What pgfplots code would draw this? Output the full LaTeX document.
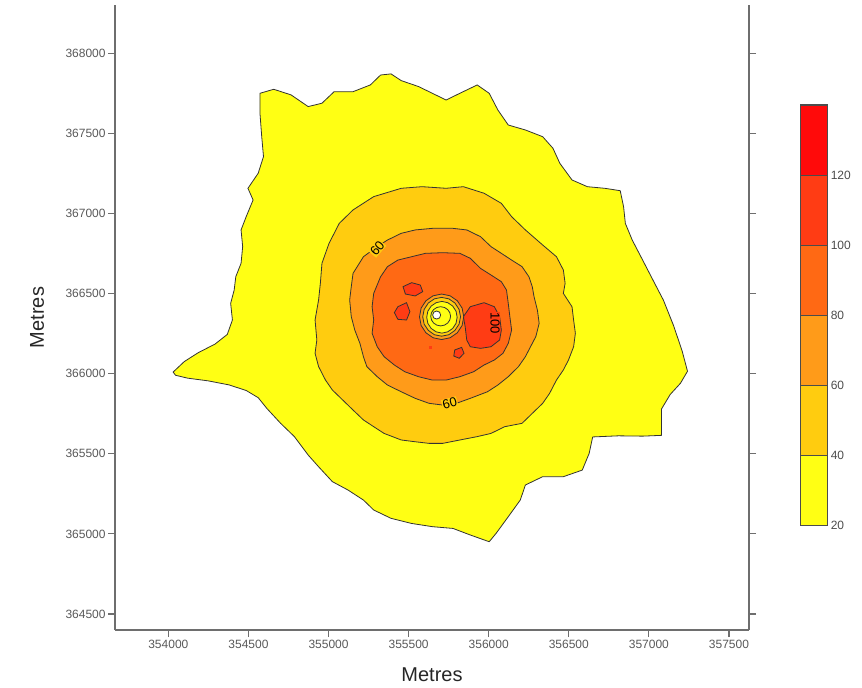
\documentclass[border=0pt]{standalone}
\usepackage{pgfplots}
\pgfplotsset{compat=1.18}
\usepackage{fontspec}
\setmainfont{Liberation Sans}
\definecolor{c20}{RGB}{255,255,20}
\definecolor{c40}{RGB}{255,204,15}
\definecolor{c60}{RGB}{255,155,25}
\definecolor{c80}{RGB}{255,105,20}
\definecolor{c100}{RGB}{255,60,20}
\definecolor{c120}{RGB}{255,10,10}
\definecolor{axgray}{RGB}{110,110,110}
\begin{document}
\begin{tikzpicture}
\begin{axis}[
  name=main,
  at={(57.5pt,28.5pt)}, anchor=south west,
  width=317pt, height=312.5pt, scale only axis,
  xmin=353667, xmax=357625, ymin=364400, ymax=368301,
  scaled x ticks=false, scaled y ticks=false,
  axis x line*=bottom, axis y line*=box,
  xtick pos=left, xticklabel pos=left,
  ytick pos=both, yticklabel pos=left,
  tick align=outside,
  major tick length=3.5pt,
  axis line style={axgray, line width=0.6pt},
  major tick style={axgray, line width=0.6pt},
  xtick={354000,354500,355000,355500,356000,356500,357000,357500},
  xticklabels={354000,354500,355000,355500,356000,356500,357000,357500},
  ytick={364500,365000,365500,366000,366500,367000,367500,368000},
  yticklabels={364500,365000,365500,366000,366500,367000,367500,368000},
  tick label style={font=\fontsize{6}{7}\selectfont, text=black!65},
  yticklabel style={inner sep=1pt},
  xticklabel style={inner sep=1.5pt},
  xlabel={Metres}, ylabel={Metres},
  label style={font=\fontsize{10}{12}\selectfont, text=black!85},
  xlabel style={at={(axis description cs:0.5,-0.072)}, anchor=center},
  ylabel style={at={(axis description cs:-0.123,0.5)}, anchor=center},
]
% 20 contour (outer boundary)
\addplot [fill=c20, draw=black!80, line width=0.4pt] coordinates {
(354030,366010) (354099,366075) (354185,366130) (354292,366185) (354368,366245)
(354400,366335) (354389,366439) (354411,366522) (354421,366605) (354454,366689)
(354464,366793) (354454,366897) (354486,366980) (354529,367084) (354497,367157)
(354561,367251) (354594,367355) (354583,367479) (354572,367625) (354572,367750)
(354658,367775) (354766,367740) (354873,367667) (354959,367688) (355035,367760)
(355153,367760) (355261,367802) (355325,367864) (355390,367871) (355454,367829)
(355562,367792) (355648,367750) (355734,367708) (355820,367750) (355928,367802)
(356003,367750) (356057,367646) (356122,367552) (356229,367521) (356337,367479)
(356401,367407) (356444,367313) (356520,367209) (356616,367167) (356724,367157)
(356821,367142) (356842,367042) (356853,366938) (356896,366834) (356961,366709)
(357025,366585) (357090,366460) (357154,366300) (357208,366140) (357241,366015)
(357197,365940) (357133,365870) (357079,365780) (357079,365700) (357079,365615)
(356961,365610) (356810,365612) (356649,365605) (356627,365502) (356584,365398)
(356466,365357) (356337,365357) (356229,365305) (356197,365211) (356122,365107)
(356046,365003) (356003,364951) (355885,364993) (355777,365034) (355648,365045)
(355519,365065) (355390,365097) (355282,365149) (355218,365211) (355121,365274)
(355024,365326) (354938,365419) (354873,365492) (354787,365607) (354701,365690)
(354615,365783) (354561,365850) (354486,365895) (354378,365930) (354249,365955)
(354120,365972) (354045,365990)
} -- cycle;
% 40 contour
\addplot [fill=c40, draw=black!80, line width=0.4pt] coordinates {
(355153,367022) (355282,367105) (355454,367157) (355584,367167) (355734,367157)
(355842,367167) (355971,367126) (356079,367063) (356143,366980) (356229,366897)
(356337,366803) (356423,366730) (356466,366647) (356477,366564) (356466,366501)
(356520,366418) (356530,366335) (356541,366252) (356530,366168) (356498,366085)
(356466,366023) (356423,365960) (356380,365877) (356337,365815) (356272,365752)
(356208,365690) (356100,365669) (356014,365627) (355928,365607) (355820,365586)
(355713,365565) (355627,365565) (355541,365575) (355454,365586) (355347,365627)
(355282,365669) (355218,365711) (355153,365773) (355089,365835) (355024,365898)
(354981,365960) (354938,366044) (354916,366127) (354927,366210) (354916,366335)
(354938,366460) (354949,366564) (354959,366689) (355003,366813) (355067,366938)
} -- cycle;
% 60 contour
\addplot [fill=c60, draw=black!80, line width=0.4pt] coordinates {
(355153,366626) (355218,366730) (355304,366793) (355368,366834) (355454,366876)
(355541,366897) (355648,366907) (355777,366907) (355863,366897) (355949,366855)
(356014,366793) (356079,366751) (356143,366709) (356208,366668) (356251,366605)
(356272,366543) (356283,366480) (356304,366397) (356315,366314) (356294,366231)
(356261,366168) (356229,366106) (356186,366044) (356122,365981) (356057,365929)
(355992,365887) (355885,365846) (355799,365815) (355713,365804) (355627,365815)
(355541,365846) (355454,365887) (355368,365929) (355304,365981) (355239,366044)
(355218,366106) (355196,366189) (355164,366272) (355142,366356) (355132,366460)
(355142,366543)
} -- cycle;
% 80 contour
\addplot [fill=c80, draw=black!80, line width=0.4pt] coordinates {
(355325,366605) (355368,366668) (355433,366709) (355519,366730) (355605,366751)
(355713,366755) (355820,366751) (355885,366720) (355949,366657) (356014,366616)
(356079,366574) (356111,366522) (356122,366439) (356132,366356) (356143,366272)
(356122,366189) (356089,366127) (356035,366085) (355971,366054) (355906,366012)
(355820,365981) (355734,365960) (355648,365960) (355562,365981) (355476,366012)
(355411,366054) (355347,366106) (355304,366168) (355272,366252) (355282,366335)
(355272,366418) (355282,366501)
} -- cycle;
% 100 contours
\addplot [fill=c100, draw=black!80, line width=0.4pt] coordinates {
(355885,366418) (355971,366443) (356035,366418) (356068,366356) (356079,366272)
(356068,366210) (356014,366168) (355949,366158) (355885,366168) (355863,366210)
(355853,366293) (355842,366356)
} -- cycle;
\addplot [fill=c100, draw=black!80, line width=0.4pt] coordinates {
(355465,366543) (355519,366568) (355573,366553) (355588,366512) (355541,366485)
(355480,366497)
} -- cycle;
\addplot [fill=c100, draw=black!80, line width=0.4pt] coordinates {
(355433,366418) (355487,366443) (355508,366387) (355487,366335) (355433,366339)
(355411,366381)
} -- cycle;
\addplot [fill=c100, draw=black!80, line width=0.4pt] coordinates {
(355788,366148) (355831,366164) (355846,366127) (355816,366096) (355782,366110)
} -- cycle;
\addplot [fill=c100, draw=none] coordinates {
(355627,366173) (355648,366173) (355648,366156) (355627,366156)
} -- cycle;
% centre rings
\addplot [fill=c60, draw=black!80, line width=0.4pt] coordinates {
(355844,366355) (355834,366409) (355804,366455) (355759,366486) (355706,366497)
(355653,366486) (355608,366455) (355578,366409) (355568,366355) (355578,366301)
(355608,366255) (355653,366224) (355706,366213) (355759,366224) (355804,366255)
(355834,366301)
} -- cycle;
\addplot [fill=c40, draw=black!80, line width=0.4pt] coordinates {
(355824,366355) (355815,366401) (355789,366441) (355751,366467) (355706,366476)
(355661,366467) (355623,366441) (355597,366401) (355588,366355) (355597,366309)
(355623,366270) (355661,366243) (355706,366234) (355751,366243) (355789,366270)
(355815,366309)
} -- cycle;
\addplot [fill=c20, draw=black!80, line width=0.4pt] coordinates {
(355803,366352) (355796,366390) (355775,366422) (355744,366443) (355708,366451)
(355672,366443) (355641,366422) (355620,366390) (355613,366352) (355620,366314)
(355641,366282) (355672,366261) (355708,366253) (355744,366261) (355775,366282)
(355796,366314)
} -- cycle;
\addplot [fill=c20, draw=black!80, line width=0.4pt] coordinates {
(355762,366358) (355757,366381) (355744,366400) (355724,366413) (355700,366418)
(355676,366413) (355656,366400) (355643,366381) (355638,366358) (355643,366335)
(355656,366316) (355676,366303) (355700,366298) (355724,366303) (355744,366316)
(355757,366335)
} -- cycle;
\addplot [fill=white, draw=black!80, line width=0.4pt] coordinates {
(355700,366366) (355693,366384) (355675,366391) (355657,366384) (355650,366366)
(355657,366348) (355675,366341) (355693,366348)
} -- cycle;
% contour labels
\node [font=\fontsize{6.5}{7}\selectfont, fill=c40, inner sep=0.3pt, rotate=50] at (axis cs:355304,366782) {60};
\node [font=\fontsize{6.5}{7}\selectfont, fill=c40, inner sep=0.3pt, rotate=15] at (axis cs:355756,365815) {60};
\node [font=\fontsize{6.5}{7}\selectfont, fill=c100, inner sep=0.3pt, rotate=-90] at (axis cs:356040,366314) {100};
\end{axis}
% colour bar
\begin{axis}[
  at={(400pt,81pt)}, anchor=south west,
  width=13.7pt, height=210pt, scale only axis,
  xmin=0, xmax=1, ymin=20, ymax=140,
  xtick=\empty,
  ytick={20,40,60,80,100,120},
  yticklabels={20,40,60,80,100,120},
  yticklabel pos=right, ytick pos=right,
  major tick length=0pt,
  axis line style={black!70, line width=0.5pt},
  tick label style={font=\fontsize{6}{7}\selectfont, text=black!70},
  yticklabel style={inner sep=1.5pt},
]
\addplot [fill=c20, draw=black!70, line width=0.4pt] coordinates {(0,20) (1,20) (1,40) (0,40)} -- cycle;
\addplot [fill=c40, draw=black!70, line width=0.4pt] coordinates {(0,40) (1,40) (1,60) (0,60)} -- cycle;
\addplot [fill=c60, draw=black!70, line width=0.4pt] coordinates {(0,60) (1,60) (1,80) (0,80)} -- cycle;
\addplot [fill=c80, draw=black!70, line width=0.4pt] coordinates {(0,80) (1,80) (1,100) (0,100)} -- cycle;
\addplot [fill=c100, draw=black!70, line width=0.4pt] coordinates {(0,100) (1,100) (1,120) (0,120)} -- cycle;
\addplot [fill=c120, draw=black!70, line width=0.4pt] coordinates {(0,120) (1,120) (1,140) (0,140)} -- cycle;
\end{axis}
\pgfresetboundingbox
\path[use as bounding box] (0pt,0pt) rectangle (431pt,343.5pt);
\end{tikzpicture}
\end{document}
